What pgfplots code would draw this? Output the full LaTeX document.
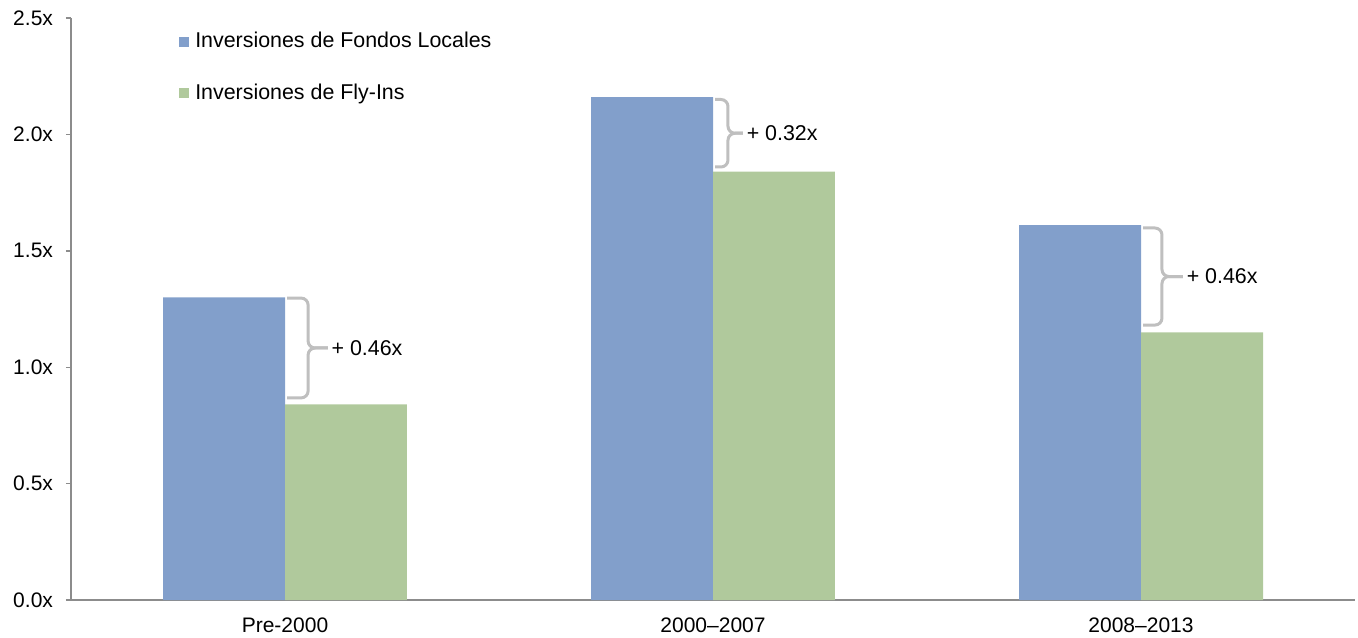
\documentclass[border=0pt]{standalone}
\usepackage{fontspec}
\setmainfont{Liberation Sans}
\usepackage{pgfplots}
\pgfplotsset{compat=1.18}

\definecolor{localblue}{HTML}{829FCB}
\definecolor{flygreen}{HTML}{B0C99C}
\definecolor{axisgray}{HTML}{8C8C8C}
\definecolor{bracegray}{HTML}{BFBFBF}

% gap bracket: #1 group position, #2 top value, #3 bottom value,
% #4 offset of the vertical stroke, #5 offset of the tip, #6 label
\newcommand{\gapbrace}[6]{%
  \draw[bracegray, line width=1.5pt, rounded corners=3.5pt]
    (axis cs:#1+0.005,#2) -- (axis cs:#1+#4,#2) -- (axis cs:#1+#4,{(#2+#3)/2})
    -- (axis cs:#1+#5,{(#2+#3)/2});
  \draw[bracegray, line width=1.5pt, rounded corners=3.5pt]
    (axis cs:#1+#5,{(#2+#3)/2}) -- (axis cs:#1+#4,{(#2+#3)/2})
    -- (axis cs:#1+#4,#3) -- (axis cs:#1+0.005,#3);
  \node[anchor=west, inner sep=0pt, font=\fontsize{10.7}{12.5}\selectfont]
    at (axis cs:#1+#5+0.008,{(#2+#3)/2}) {#6};
}

\begin{document}
\begin{tikzpicture}
\begin{axis}[
  name=ax,
  scale only axis,
  width=642pt, height=291pt,
  xmin=-0.5, xmax=2.5,
  ymin=0, ymax=2.5,
  ybar, bar width=0.285,
  axis x line*=bottom, axis y line*=left,
  axis line style={axisgray, line width=0.7pt},
  xtick={0,1,2},
  xticklabels={Pre-2000,2000–2007,2008–2013},
  x tick style={draw=none},
  ytick={0,0.5,1,1.5,2,2.5},
  yticklabels={0.0x,0.5x,1.0x,1.5x,2.0x,2.5x},
  y tick style={axisgray, line width=0.7pt},
  tick align=outside,
  major tick length=2.5pt,
  tick label style={font=\fontsize{10.5}{12}\selectfont},
  xticklabel style={yshift=-3pt},
  yticklabel style={xshift=-3pt},
  clip=false,
  legend style={draw=none, fill=none, inner sep=0pt,
    at={(0.084,0.915)}, anchor=west,
    font=\fontsize{10.7}{12.5}\selectfont,
    row sep=12.5pt,
    legend cell align=left},
  legend image code/.code={\fill[#1] (0pt,-2.5pt) rectangle (5pt,2.5pt);},
]
\addplot[fill=localblue, draw=none, bar shift=-0.1425] coordinates {(0,1.30) (1,2.16) (2,1.61)};
\addlegendentry{\hspace{1pt}Inversiones de Fondos Locales}
\addplot[fill=flygreen, draw=none, bar shift=0.1425] coordinates {(0,0.84) (1,1.84) (2,1.15)};
\addlegendentry{\hspace{1pt}Inversiones de Fly-Ins}

\gapbrace{0}{1.297}{0.868}{0.054}{0.100}{+ 0.46x}
\gapbrace{1}{2.150}{1.860}{0.035}{0.070}{+ 0.32x}
\gapbrace{2}{1.598}{1.181}{0.049}{0.098}{+ 0.46x}
\end{axis}
\pgfresetboundingbox
\path[use as bounding box] ([shift={(-35.5pt,-18.5pt)}]ax.south west)
  rectangle ([shift={(1.5pt,9pt)}]ax.north east);
\end{tikzpicture}
\end{document}
